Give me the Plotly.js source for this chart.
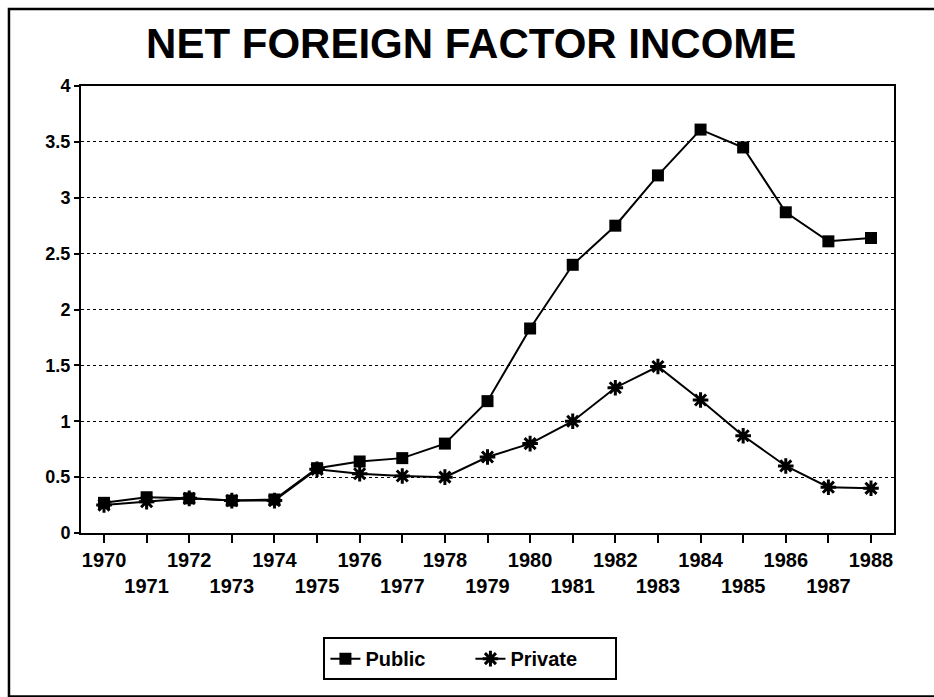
<!DOCTYPE html>
<html>
<head>
<meta charset="utf-8">
<script src="https://cdn.plot.ly/plotly-3.0.1.min.js"></script>
<style>
html,body{margin:0;padding:0;background:#fff;}
#chart{width:934px;height:697px;}
</style>
</head>
<body>
<div id="chart"></div>
<script>
const years = [1970,1971,1972,1973,1974,1975,1976,1977,1978,1979,1980,1981,1982,1983,1984,1985,1986,1987,1988];
const publicVals = [0.27,0.32,0.31,0.29,0.30,0.58,0.64,0.67,0.80,1.18,1.83,2.40,2.75,3.20,3.61,3.45,2.87,2.61,2.64];
const privateVals = [0.25,0.28,0.31,0.29,0.29,0.57,0.53,0.51,0.50,0.68,0.80,1.00,1.30,1.49,1.19,0.87,0.60,0.41,0.40];
const oddYears = years.filter(y => y % 2 === 1);
const yTicks = [0,0.5,1,1.5,2,2.5,3,3.5,4];
const yTickText = ['0','0.5','1','1.5','2','2.5','3','3.5','4'];

const FONT = '"Liberation Sans", Arial, sans-serif';

const traces = [
  {
    x: years, y: publicVals, name: 'Public', type: 'scatter', mode: 'lines+markers',
    xaxis: 'x', yaxis: 'y',
    line: {color: '#000', width: 2},
    marker: {symbol: 'square', size: 12, color: '#000'}
  },
  {
    x: years, y: privateVals, name: 'Private', type: 'scatter', mode: 'lines+markers',
    xaxis: 'x2', yaxis: 'y',
    line: {color: '#000', width: 2},
    marker: {symbol: 'asterisk-open', size: 13, color: '#000', line: {color: '#000', width: 3}}
  }
];

const xr = [1969.46, 1988.54];

const layout = {
  width: 934, height: 697,
  paper_bgcolor: '#fff', plot_bgcolor: '#fff',
  margin: {l: 81, r: 40, t: 86, b: 164},
  font: {family: FONT, color: '#000'},
  title: {
    text: '<b>NET FOREIGN FACTOR INCOME</b>',
    font: {family: FONT, size: 42, color: '#000'},
    x: 0.48, xanchor: 'center', xref: 'paper',
    y: 47, yref: 'container', yanchor: 'middle'
  },
  xaxis: {
    range: xr, tickmode: 'array', tickvals: years,
    ticktext: years.map(y => y % 2 === 0 ? '<b>' + y + '</b>' : ''),
    ticks: 'outside', ticklen: 8, tickwidth: 2, tickcolor: '#000',
    showline: true, linewidth: 2, linecolor: '#000', mirror: true,
    showgrid: false, zeroline: false,
    tickfont: {family: FONT, size: 20, color: '#000'},
    tickangle: 0, fixedrange: true
  },
  xaxis2: {
    range: xr, overlaying: 'x', anchor: 'y', side: 'bottom',
    tickmode: 'array', tickvals: oddYears,
    ticktext: oddYears.map(y => '<b>' + y + '</b>'),
    ticks: '', showline: false, showgrid: false, zeroline: false,
    ticklabelstandoff: 39,
    tickfont: {family: FONT, size: 20, color: '#000'},
    tickangle: 0
  },
  yaxis: {
    range: [0, 4], tickmode: 'array', tickvals: yTicks,
    ticktext: yTickText.map(t => '<b>' + t + '</b>'),
    ticks: 'outside', ticklen: 5, tickwidth: 2, tickcolor: '#000',
    showline: true, linewidth: 2, linecolor: '#000', mirror: true,
    showgrid: true, gridcolor: '#000', gridwidth: 1, griddash: 'dot',
    zeroline: false,
    tickfont: {family: FONT, size: 18, color: '#000'},
    ticklabelstandoff: 0
  },
  showlegend: true,
  legend: {
    orientation: 'h', x: 0.479, xanchor: 'center', xref: 'paper',
    y: -0.233, yanchor: 'top', yref: 'paper',
    bordercolor: '#000', borderwidth: 2, bgcolor: '#fff',
    font: {family: FONT, size: 20, color: '#000', weight: 'bold'},
    entrywidth: 100, entrywidthmode: 'pixels', tracegroupgap: 0
  },
  shapes: [
    {type: 'rect', xref: 'paper', yref: 'paper',
     x0: -0.0886, x1: 1.09, y0: -0.366, y1: 1.172,
     line: {color: '#000', width: 2.5}, fillcolor: 'rgba(0,0,0,0)', layer: 'below'}
  ]
};

Plotly.newPlot('chart', traces, layout, {staticPlot: true, displayModeBar: false});
</script>
</body>
</html>
